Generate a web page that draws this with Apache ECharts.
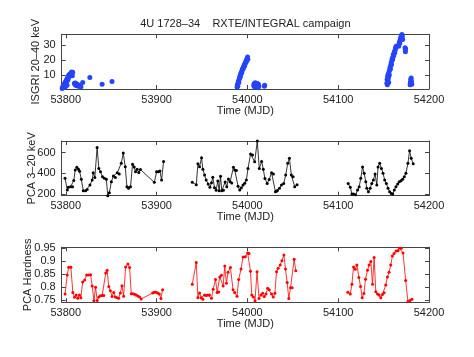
<!DOCTYPE html>
<html>
<head>
<meta charset="utf-8">
<script src="https://cdn.jsdelivr.net/npm/echarts@6/dist/echarts.min.js"></script>
<style>
html, body { margin: 0; padding: 0; background: #fff; }
#main { width: 474px; height: 357px; }
</style>
</head>
<body>
<div id="main"></div>
<script>
// tick positions
var mjdTicks = [53800, 53900, 54000, 54100, 54200];
var isgriTicks = [10, 20, 30];
var pcaTicks = [200, 400, 600];
var hardTicks = [0.75, 0.8, 0.85, 0.9, 0.95];

// ISGRI 20-40 keV  [MJD, rate]
var isgri = [
  [53796.0, 1.0], [53796.5, 2.0], [53797.0, 1.5], [53797.4, 3.0], [53797.8, 2.2], [53798.2, 4.0],
  [53798.6, 1.8], [53799.0, 3.5], [53799.4, 5.2], [53799.8, 2.6], [53800.2, 6.0], [53800.6, 4.5],
  [53801.0, 7.2], [53801.4, 3.2], [53801.8, 8.0], [53802.2, 6.5], [53802.6, 9.0], [53803.0, 8.2],
  [53803.4, 10.0], [53803.8, 9.0], [53804.3, 10.5], [53804.8, 9.5], [53805.3, 11.0], [53805.8, 10.2],
  [53806.3, 12.0], [53806.8, 11.0], [53807.2, 9.5], [53807.6, 11.8],
  [53809.5, 4.5], [53810.0, 3.8], [53810.5, 4.6], [53811.0, 3.2], [53811.5, 4.0], [53812.0, 3.0],
  [53812.5, 3.8], [53813.0, 2.8], [53813.5, 3.4], [53814.0, 2.6], [53814.5, 3.2],
  [53816.7, 2.2], [53818.6, 5.0], [53826.5, 8.4], [53840.0, 3.8], [53850.9, 5.6],
  [53988.6, 2.0], [53989.0, 3.5], [53989.4, 2.6], [53989.8, 4.8], [53990.2, 6.0], [53990.6, 5.0],
  [53991.0, 7.2], [53991.4, 8.0], [53991.8, 9.2], [53992.2, 8.6], [53992.6, 10.5], [53993.0, 11.2],
  [53993.4, 12.0], [53993.8, 11.5], [53994.2, 13.0], [53994.6, 13.8], [53995.0, 14.2], [53995.4, 15.0],
  [53995.8, 14.6], [53996.2, 16.0], [53996.6, 16.8], [53997.0, 16.2], [53997.4, 17.5], [53997.8, 18.0],
  [53998.2, 18.6], [53998.6, 19.5], [53999.0, 19.0], [53999.4, 20.2], [53999.8, 21.0], [54000.2, 22.0],
  [54000.5, 20.5],
  [54007.0, 3.0], [54007.4, 4.2], [54007.8, 2.2], [54008.2, 3.6], [54008.6, 4.8], [54009.0, 2.8],
  [54009.4, 1.8], [54009.8, 4.0], [54010.2, 3.2], [54010.6, 2.4], [54011.0, 4.4], [54011.4, 3.0],
  [54011.8, 1.6], [54012.2, 3.8], [54012.6, 2.6], [54018.7, 2.6], [54019.0, 3.2],
  [54153.6, 4.5], [54153.9, 7.0], [54154.1, 3.5], [54154.4, 9.0], [54154.7, 6.0], [54155.0, 10.5],
  [54155.3, 8.0], [54155.6, 5.0], [54155.9, 12.0], [54156.3, 10.0], [54156.7, 13.5], [54157.1, 15.0],
  [54157.5, 14.0], [54157.9, 16.5], [54158.3, 18.0], [54158.7, 17.0], [54159.1, 19.5], [54159.5, 21.0],
  [54159.9, 20.2], [54160.3, 22.0], [54160.7, 23.5], [54161.1, 22.8], [54161.5, 24.5], [54161.9, 25.5],
  [54162.3, 24.8], [54162.7, 26.5], [54163.1, 27.5], [54163.5, 28.5], [54163.9, 29.0],
  [54166.6, 29.0], [54167.0, 30.5], [54167.4, 31.8], [54167.8, 31.0], [54168.2, 33.0], [54168.6, 34.0],
  [54169.0, 35.0], [54169.4, 34.2], [54169.8, 36.0], [54170.2, 36.8], [54170.6, 35.5], [54171.0, 33.5],
  [54173.6, 28.0], [54173.9, 26.5], [54174.2, 27.4], [54174.0, 25.5],
  [54179.2, 3.6], [54179.5, 5.2], [54179.8, 7.0], [54180.1, 4.4], [54180.4, 8.0], [54180.7, 5.8], [54181.0, 3.8]
];

// PCA 3-20 keV, three observing windows
var pca1 = [
  [53799.2, 352], [53801.7, 239], [53802.8, 265], [53805.3, 271], [53807.5, 271], [53808.8, 330],
  [53810.4, 432], [53812.2, 458], [53814.0, 439], [53815.2, 420], [53817.1, 342], [53819.3, 232],
  [53821.8, 232], [53823.6, 245], [53826.6, 287], [53829.1, 335], [53830.2, 406], [53832.0, 361],
  [53834.5, 650], [53836.4, 448], [53838.2, 416], [53840.4, 368], [53842.5, 352], [53844.7, 342],
  [53846.2, 184], [53848.0, 213], [53850.2, 319], [53852.4, 374], [53854.6, 361], [53856.7, 406],
  [53858.9, 394], [53861.1, 497], [53863.3, 597], [53865.5, 465], [53867.3, 271], [53869.1, 255],
  [53871.3, 271], [53873.5, 488], [53875.3, 462], [53876.8, 415], [53878.6, 440], [53880.4, 408],
  [53882.2, 437], [53897.5, 313], [53900.0, 416], [53901.9, 416], [53903.7, 423], [53905.5, 335],
  [53907.7, 515]
];
var pca2 = [
  [53939.3, 313], [53943.7, 290], [53945.5, 492], [53947.3, 465], [53949.5, 550], [53951.0, 440],
  [53952.8, 384], [53954.6, 335], [53956.8, 297], [53958.7, 265], [53960.5, 310], [53961.9, 362],
  [53963.8, 260], [53965.6, 236], [53967.4, 326], [53968.9, 232], [53970.4, 372], [53971.8, 232],
  [53973.6, 236], [53975.5, 316], [53977.3, 271], [53979.1, 345], [53981.0, 319], [53982.8, 308],
  [53984.6, 458], [53986.1, 432], [53987.9, 428], [53989.7, 275], [53991.6, 239], [53993.4, 262],
  [53995.2, 287], [53997.1, 305], [53998.9, 335], [54000.7, 448], [54003.5, 588], [54005.6, 578],
  [54008.0, 512], [54010.9, 712], [54013.1, 448], [54015.7, 515], [54017.5, 440], [54019.3, 350],
  [54021.8, 303], [54024.0, 340], [54026.6, 406], [54028.7, 394], [54030.9, 222], [54032.0, 226],
  [54033.1, 234], [54035.3, 255], [54037.5, 287], [54040.0, 303], [54042.2, 384], [54044.4, 497],
  [54046.3, 545], [54048.4, 384], [54050.3, 368], [54052.1, 271], [54054.7, 290]
];
var pca3 = [
  [54111.0, 303], [54113.3, 265], [54115.1, 200], [54116.9, 200], [54119.1, 192], [54121.3, 239],
  [54123.1, 271], [54124.9, 352], [54126.8, 462], [54128.6, 400], [54130.4, 319], [54131.5, 255],
  [54133.3, 222], [54135.2, 255], [54137.0, 303], [54138.8, 335], [54140.6, 395], [54142.5, 287],
  [54143.9, 462], [54145.7, 497], [54147.6, 448], [54149.4, 400], [54151.2, 335], [54153.0, 303],
  [54154.9, 255], [54156.7, 222], [54158.5, 206], [54160.0, 200], [54161.8, 239], [54163.6, 271],
  [54165.5, 297], [54167.3, 319], [54169.1, 329], [54170.9, 342], [54172.8, 368], [54174.6, 400],
  [54176.8, 497], [54178.6, 619], [54180.4, 545], [54182.6, 492]
];

// PCA hardness
var hard1 = [
  [53799.2, 0.774], [53801.6, 0.847], [53803.2, 0.877], [53805.6, 0.877], [53807.8, 0.780], [53809.6, 0.761],
  [53811.4, 0.770], [53813.2, 0.758], [53815.0, 0.770], [53816.6, 0.760], [53818.6, 0.820], [53820.8, 0.828],
  [53823.0, 0.847], [53825.1, 0.847], [53827.3, 0.848], [53829.1, 0.805], [53831.0, 0.748], [53832.8, 0.800],
  [53834.6, 0.749], [53836.4, 0.762], [53838.2, 0.767], [53840.1, 0.768], [53841.9, 0.768], [53844.0, 0.855],
  [53845.5, 0.866], [53847.3, 0.803], [53849.1, 0.787], [53851.0, 0.764], [53852.8, 0.780], [53854.6, 0.762],
  [53856.4, 0.760], [53858.2, 0.758], [53860.1, 0.778], [53861.9, 0.806], [53863.7, 0.765], [53865.9, 0.878],
  [53868.4, 0.890], [53870.3, 0.876], [53872.1, 0.775], [53873.9, 0.775], [53875.7, 0.773], [53877.5, 0.770],
  [53879.4, 0.766], [53881.2, 0.762], [53883.0, 0.755], [53895.7, 0.778], [53897.5, 0.781], [53899.4, 0.781],
  [53901.2, 0.778], [53903.0, 0.774], [53904.8, 0.757], [53906.6, 0.790]
];
var hard2 = [
  [53939.3, 0.812], [53943.7, 0.895], [53945.5, 0.760], [53947.3, 0.778], [53949.1, 0.760], [53951.0, 0.754],
  [53952.8, 0.770], [53954.6, 0.768], [53956.4, 0.770], [53958.3, 0.770], [53960.5, 0.758], [53962.3, 0.792],
  [53964.9, 0.830], [53966.7, 0.780], [53968.5, 0.782], [53969.6, 0.840], [53971.4, 0.846], [53973.3, 0.805],
  [53975.1, 0.882], [53976.9, 0.815], [53978.7, 0.858], [53981.3, 0.876], [53984.2, 0.790], [53986.0, 0.780],
  [53988.6, 0.765], [53990.4, 0.830], [53993.0, 0.870], [53995.2, 0.917], [53997.7, 0.918], [54000.3, 0.932],
  [54001.8, 0.930], [54003.4, 0.862], [54004.8, 0.770], [54006.6, 0.762], [54008.4, 0.748], [54010.6, 0.860],
  [54012.8, 0.757], [54015.0, 0.770], [54016.8, 0.777], [54018.6, 0.764], [54020.5, 0.774], [54022.3, 0.796],
  [54024.1, 0.790], [54026.6, 0.774], [54028.5, 0.762], [54030.3, 0.777], [54032.1, 0.860], [54033.9, 0.873],
  [54036.1, 0.886], [54038.0, 0.902], [54040.2, 0.924], [54042.0, 0.870], [54043.8, 0.818], [54045.6, 0.757],
  [54047.5, 0.798], [54049.3, 0.798], [54051.5, 0.908], [54053.3, 0.864]
];
var hard3 = [
  [54110.6, 0.781], [54113.3, 0.774], [54115.1, 0.812], [54116.9, 0.878], [54118.8, 0.869], [54120.6, 0.886],
  [54122.8, 0.838], [54124.6, 0.803], [54126.4, 0.760], [54128.3, 0.776], [54130.1, 0.831], [54132.3, 0.866],
  [54134.1, 0.886], [54135.9, 0.899], [54137.8, 0.812], [54139.6, 0.915], [54141.4, 0.783], [54143.3, 0.774],
  [54145.1, 0.770], [54146.9, 0.760], [54148.7, 0.772], [54150.6, 0.779], [54152.4, 0.809], [54154.2, 0.840],
  [54156.0, 0.858], [54157.9, 0.886], [54159.7, 0.920], [54161.5, 0.930], [54163.7, 0.940], [54165.9, 0.941],
  [54167.7, 0.950], [54169.5, 0.950], [54171.4, 0.932], [54174.3, 0.826], [54176.8, 0.745], [54179.0, 0.749],
  [54181.2, 0.754]
];

var FONT = 'Liberation Sans';
var AXIS_COLOR = '#444';
var TEXT_COLOR = '#222';
var FS = 11;

var panels = [
  { top: 34.3, height: 54.7, min: 0.7, max: 37, ticks: isgriTicks, name: 'ISGRI 20\u201340 keV', gap: 20 },
  { top: 141, height: 54.7, min: 184, max: 713, ticks: pcaTicks, name: 'PCA 3\u201320 keV', gap: 24 },
  { top: 247.3, height: 55, min: 0.742, max: 0.954, ticks: hardTicks, name: 'PCA Hardness', gap: 28.5 }
];

var grids = [], xAxes = [], yAxes = [];
panels.forEach(function (p, i) {
  grids.push({ left: 61.7, right: 45, top: p.top, height: p.height });

  var tick = { inside: true, length: 4, lineStyle: { color: AXIS_COLOR } };
  var line = { show: true, onZero: false, lineStyle: { color: AXIS_COLOR, width: 1 } };
  var nameStyle = { fontSize: FS, color: TEXT_COLOR, fontFamily: FONT };

  xAxes.push({
    gridIndex: i, type: 'value', min: 53795.5, max: 54200, position: 'bottom',
    name: 'Time (MJD)', nameLocation: 'middle', nameGap: 16, nameMoveOverlap: false,
    nameTextStyle: nameStyle,
    axisLine: line,
    axisTick: Object.assign({}, tick, { customValues: mjdTicks }),
    axisLabel: { customValues: mjdTicks, margin: 5, fontSize: FS, color: TEXT_COLOR, fontFamily: FONT,
      formatter: function (v) { return String(v); } },
    splitLine: { show: false }
  });
  xAxes.push({
    gridIndex: i, type: 'value', min: 53795.5, max: 54200, position: 'top',
    axisLine: line,
    axisTick: Object.assign({}, tick, { customValues: mjdTicks }),
    axisLabel: { show: false },
    splitLine: { show: false }
  });

  yAxes.push({
    gridIndex: i, type: 'value', min: p.min, max: p.max, position: 'left',
    name: p.name, nameLocation: 'middle', nameGap: p.gap, nameMoveOverlap: false,
    nameTextStyle: nameStyle,
    axisLine: line,
    axisTick: Object.assign({}, tick, { customValues: p.ticks }),
    axisLabel: { customValues: p.ticks, margin: 6, fontSize: FS, color: TEXT_COLOR, fontFamily: FONT,
      formatter: function (v) { return String(v); } },
    splitLine: { show: false }
  });
  yAxes.push({
    gridIndex: i, type: 'value', min: p.min, max: p.max, position: 'right',
    axisLine: line,
    axisTick: Object.assign({}, tick, { customValues: p.ticks }),
    axisLabel: { show: false },
    splitLine: { show: false }
  });
});

function lineSeries(data, panel, color) {
  return {
    type: 'line', xAxisIndex: panel * 2, yAxisIndex: panel * 2, data: data,
    symbol: 'circle', symbolSize: 3, showSymbol: true,
    lineStyle: { width: 0.8, color: color }, itemStyle: { color: color },
    emphasis: { disabled: true }
  };
}

var series = [{
  type: 'scatter', xAxisIndex: 0, yAxisIndex: 0, data: isgri,
  symbolSize: 5, itemStyle: { color: '#2444ff', opacity: 1 }
}];
[pca1, pca2, pca3].forEach(function (d) { series.push(lineSeries(d, 1, '#000')); });
[hard1, hard2, hard3].forEach(function (d) { series.push(lineSeries(d, 2, '#ff0000')); });

var myChart = echarts.init(document.getElementById('main'));
myChart.setOption({
  animation: false,
  backgroundColor: '#fff',
  graphic: [{
    type: 'text', x: 245.4, y: 24,
    style: { text: '4U 1728\u201334    RXTE/INTEGRAL campaign', align: 'center', verticalAlign: 'middle',
      fontSize: FS, fill: TEXT_COLOR, fontFamily: FONT }
  }],
  grid: grids,
  xAxis: xAxes,
  yAxis: yAxes,
  series: series
});
</script>
</body>
</html>
